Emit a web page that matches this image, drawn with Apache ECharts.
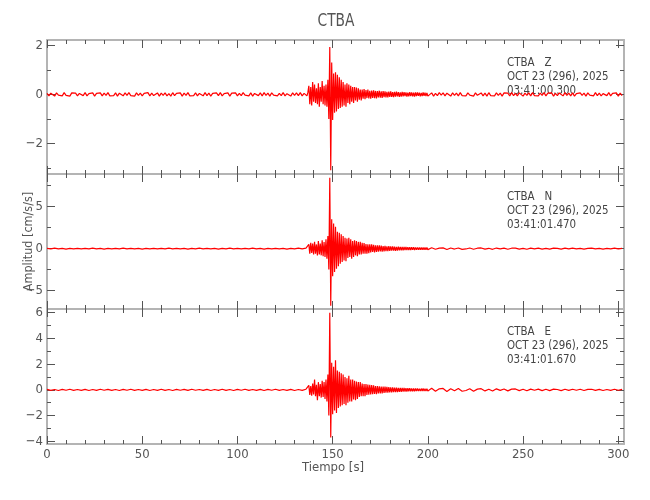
<!DOCTYPE html>
<html>
<head>
<meta charset="utf-8">
<script src="https://cdn.jsdelivr.net/npm/echarts@6/dist/echarts.min.js"></script>
<style>html,body{margin:0;padding:0;background:#fff}#c{width:650px;height:500px}</style>
</head>
<body>
<div id="c"></div>
<script>
// ---------- data ----------
const stationName = 'CTBA';
const channels = ['Z', 'N', 'E'];
const startTimes = ['03:41:00.300', '03:41:01.470', '03:41:01.670'];
const dateText = 'OCT 23 (296), 2025';

const xTicks = [0, 50, 100, 150, 200, 250, 300];
const zTicks = [-2, 0, 2];
const zMinorTicks = [-3, -1, 1];
const nTicks = [-5, 0, 5];
const nMinorTicks = [-7.5, -2.5, 2.5, 7.5];
const eTicks = [-4, -2, 0, 2, 4, 6];
const eMinorTicks = [-3, -1, 1, 3, 5];

// sampling of the hand-read traces (seconds)
const EV_T0 = 136, EV_DT = 0.5;       // event window, all channels
const POST_T0 = 202;                  // after-event window start
const zPreDt = 1, zPostDt = 1;
const nPreDt = 2, nPostDt = 2;
const ePreDt = 2, ePostDt = 2;

const zPre = [0.04,-0.06,0.05,0.02,-0.07,0.06,-0.03,0.05,-0.06,0.07,
-0.04,0.03,-0.07,0.06,-0.02,0.05,-0.06,0.04,0.06,-0.05,
0.07,-0.06,0.03,-0.05,0.06,-0.07,0.04,-0.02,0.06,-0.06,
0.05,-0.04,0.07,-0.06,0.02,-0.05,0.06,-0.07,0.05,0.03,
-0.06,0.06,-0.04,0.07,-0.05,0.03,-0.07,0.06,-0.04,0.05,
-0.06,0.04,-0.03,0.07,-0.06,0.05,-0.05,0.02,0.06,-0.07,
0.05,-0.04,0.06,-0.06,0.03,-0.07,0.07,-0.05,0.04,-0.03,
0.06,-0.07,0.05,-0.04,0.07,-0.06,0.02,-0.05,0.06,-0.06,
0.04,0.03,-0.06,0.07,-0.05,0.05,-0.07,0.04,-0.03,0.06,
-0.05,0.07,-0.06,0.03,-0.04,0.06,-0.07,0.05,-0.02,0.06,
-0.06,0.04,-0.05,0.07,-0.03,0.05,-0.06,0.06,-0.07,0.04,
0.03,-0.05,0.06,-0.06,0.07,-0.04,0.05,-0.07,0.06,-0.03,
0.05,-0.06,0.04,-0.05,0.07,-0.06,0.03,0.05,-0.07,0.06,
-0.04,0.06,-0.05,0.07,-0.06,0.04];
const zEvent = [0.05,-0.06,0.08,
0.35,-0.4,0.3,-0.45,0.5,-0.3,0.4,-0.35,0.25,-0.4,0.45,-0.5,0.3,-0.3,0.55,-0.4,0.35,-0.45,0.4,-0.5,
0.6,-1.0,1.93,-3.1,1.3,-1.05,0.85,-0.75,0.9,-0.7,0.8,-0.6,0.7,-0.55,0.6,-0.5,
0.5,-0.45,0.4,-0.5,0.45,-0.35,0.4,-0.4,0.35,-0.3,0.3,-0.35,0.3,-0.25,0.28,-0.3,0.25,-0.22,0.2,-0.25,
0.2,-0.18,0.22,-0.2,0.18,-0.15,0.2,-0.17,0.15,-0.18,0.16,-0.14,0.17,-0.15,0.14,-0.16,0.13,-0.12,0.15,-0.13,0.12,-0.14,0.13,-0.11,0.12,-0.12,0.1,-0.12,0.11,-0.1,
0.12,-0.1,0.09,-0.11,0.1,-0.09,0.11,-0.08,0.09,-0.1,0.08,-0.09,0.1,-0.08,0.09,-0.07,0.08,-0.09,0.07,-0.08,
0.09,-0.07,0.08,-0.08,0.07,-0.09,0.08,-0.07,0.08,-0.06,0.07,-0.08,0.06,-0.07,0.08,-0.06,0.07,-0.07,0.06,-0.07];
const zPost = [0.06,-0.07,0.04,-0.05,0.07,-0.03,0.06,-0.06,0.05,0.02,
-0.07,0.06,-0.04,0.05,-0.06,0.07,-0.05,0.03,-0.06,0.06,
-0.03,0.05,-0.07,0.06,-0.04,0.04,0.06,-0.06,0.05,-0.07,
0.07,-0.05,0.03,-0.06,0.06,-0.04,0.05,-0.07,0.06,-0.02,
0.05,-0.06,0.07,-0.05,0.04,-0.06,0.06,0.03,-0.07,0.05,
-0.04,0.06,-0.06,0.07,-0.05,0.03,-0.06,0.05,-0.04,0.07,
-0.06,0.05,-0.03,0.06,-0.07,0.04,-0.05,0.06,0.02,-0.06,
0.07,-0.04,0.05,-0.06,0.06,-0.07,0.03,-0.05,0.06,-0.04,
0.05,-0.07,0.06,-0.03,0.04,-0.06,0.07,-0.05,0.05,-0.06,
0.03,0.06,-0.05,0.07,-0.06,0.04,-0.04,0.06,-0.07,0.05,
-0.05];

const nPre = [0.04,-0.03,0.05,-0.04,0.03,-0.05,0.04,-0.03,0.04,-0.04,
0.03,-0.04,0.05,-0.03,0.04,-0.05,0.03,-0.04,0.04,-0.03,
0.05,-0.04,0.03,-0.04,0.04,-0.05,0.04,-0.03,0.03,-0.04,
0.04,-0.04,0.05,-0.03,0.03,-0.04,0.04,-0.05,0.03,-0.04,
0.05,-0.03,0.04,-0.04,0.03,-0.05,0.04,-0.03,0.05,-0.04,
0.03,-0.04,0.04,-0.03,0.05,-0.04,0.03,-0.05,0.04,-0.03,
0.04,-0.04,0.03,-0.05,0.04,-0.03,0.05,-0.04];
const nEvent = [0.05,-0.1,0.2,
0.5,-0.6,0.7,-0.5,0.6,-0.7,0.8,-0.6,0.5,-0.8,0.9,-0.7,0.6,-0.8,1.0,-0.9,0.8,-1.0,1.1,-1.2,
1.5,-2.5,8.45,-6.8,3.5,-3.3,3.0,-2.8,2.6,-2.4,2.0,-2.1,1.9,-1.8,1.7,-1.6,
1.5,-1.4,1.3,-1.5,1.2,-1.1,1.3,-1.0,1.1,-1.2,0.9,-1.0,1.0,-0.8,0.9,-0.9,0.8,-0.7,0.8,-0.7,
0.7,-0.6,0.65,-0.6,0.55,-0.6,0.5,-0.55,0.5,-0.45,0.5,-0.4,0.45,-0.45,0.4,-0.4,0.38,-0.35,0.4,-0.33,0.35,-0.35,0.3,-0.32,0.33,-0.3,0.28,-0.3,0.3,-0.27,
0.28,-0.25,0.27,-0.25,0.24,-0.26,0.22,-0.24,0.23,-0.2,0.22,-0.21,0.2,-0.2,0.19,-0.18,0.2,-0.17,0.18,-0.18,
0.16,-0.17,0.17,-0.15,0.16,-0.16,0.15,-0.14,0.15,-0.15,0.13,-0.14,0.14,-0.13,0.13,-0.12,0.13,-0.12,0.12,-0.12];
const nPost = [0.1,-0.08,0.06,0.09,-0.1,0.07,-0.05,0.08,-0.09,-0.04,
0.07,-0.08,0.05,0.08,-0.06,0.04,-0.08,0.07,-0.03,0.06,
-0.07,0.05,0.06,-0.05,0.04,-0.07,0.06,-0.02,0.05,-0.06,
0.04,-0.05,0.06,0.03,-0.06,0.05,-0.04,0.05,-0.03,0.04,
-0.05,0.03,0.05,-0.04,0.04,-0.05,0.03,-0.04,0.05,-0.03,
0.04];

const ePre = [0.04,-0.04,0.03,-0.05,0.04,-0.03,0.05,-0.04,0.03,-0.04,
0.04,-0.05,0.03,-0.04,0.05,-0.03,0.04,-0.04,0.03,-0.05,
0.04,-0.03,0.05,-0.04,0.03,-0.04,0.04,-0.05,0.03,-0.04,
0.05,-0.04,0.03,-0.05,0.04,-0.03,0.04,-0.04,0.05,-0.03,
0.03,-0.04,0.04,-0.05,0.03,-0.04,0.05,-0.04,0.03,-0.05,
0.04,-0.03,0.05,-0.04,0.03,-0.04,0.04,-0.05,0.04,-0.03,
0.05,-0.04,0.03,-0.04,0.04,-0.05,0.03,-0.04];
const eEvent = [0.05,-0.1,0.2,
0.35,-0.4,0.3,-0.45,0.5,-0.35,0.8,-0.5,0.4,-0.8,0.6,-0.5,0.45,-0.6,0.7,-0.55,0.6,-0.7,0.8,-0.9,
1.2,-2.0,6.0,-3.7,2.1,-1.9,1.8,-1.6,2.3,-1.8,1.5,-1.4,1.4,-1.3,1.3,-1.2,
1.2,-1.1,1.0,-1.2,0.9,-1.0,1.1,-0.9,0.8,-0.9,0.8,-0.75,0.7,-0.8,0.65,-0.7,0.6,-0.55,0.6,-0.5,
0.5,-0.5,0.45,-0.5,0.45,-0.4,0.42,-0.38,0.4,-0.35,0.38,-0.33,0.35,-0.32,0.3,-0.33,0.3,-0.28,0.28,-0.27,0.26,-0.27,0.25,-0.24,0.25,-0.22,0.23,-0.22,0.21,-0.2,
0.2,-0.19,0.2,-0.18,0.18,-0.17,0.17,-0.18,0.16,-0.15,0.16,-0.15,0.15,-0.14,0.15,-0.13,0.14,-0.14,0.13,-0.12,
0.13,-0.12,0.12,-0.12,0.11,-0.12,0.11,-0.1,0.11,-0.1,0.1,-0.1,0.1,-0.09,0.1,-0.09,0.09,-0.09,0.09,-0.08];
const ePost = [0.12,-0.1,0.08,0.11,-0.12,0.09,-0.07,0.1,-0.11,-0.05,
0.09,-0.1,0.06,0.09,-0.08,0.05,-0.09,0.08,-0.04,0.07,
-0.08,0.06,0.07,-0.06,0.05,-0.07,0.06,-0.03,0.06,-0.06,
0.05,-0.06,0.06,0.03,-0.06,0.05,-0.04,0.05,-0.03,0.05,
-0.05,0.04,0.05,-0.04,0.04,-0.05,0.03,-0.04,0.05,-0.03,
0.04];

// ---------- chart ----------
const FONT = "'Liberation Sans Narrow','DejaVu Sans Condensed','Roboto Condensed',sans-serif";
const TXT = '#555';
const FRAME = '#b4b4b4';
const TICK = '#555';

function buildTrace(preDt, pre, ev, postDt, post) {
  const d = [];
  pre.forEach((v, i) => d.push([i * preDt, v]));
  ev.forEach((v, i) => d.push([EV_T0 + i * EV_DT, v]));
  post.forEach((v, i) => d.push([POST_T0 + i * postDt, v]));
  return d;
}

const panels = [
  { min: -3.25, max: 2.22, major: zTicks, minor: zMinorTicks, data: buildTrace(zPreDt, zPre, zEvent, zPostDt, zPost), top: 40, height: 134 },
  { min: -7.2, max: 8.9, major: nTicks, minor: nMinorTicks, data: buildTrace(nPreDt, nPre, nEvent, nPostDt, nPost), top: 174, height: 135 },
  { min: -4.21, max: 6.29, major: eTicks, minor: eMinorTicks, data: buildTrace(ePreDt, ePre, eEvent, ePostDt, ePost), top: 309, height: 135 }
];

const fmt = v => (v < 0 ? '\u2212' + Math.abs(v) : String(v));

const grid = [], xAxis = [], yAxis = [], series = [], graphic = [];
panels.forEach((p, g) => {
  grid.push({ left: 47, width: 577, top: p.top, height: p.height });
  ['bottom', 'top'].forEach(pos => {
    xAxis.push({
      type: 'value', gridIndex: g, min: 0, max: 303, position: pos, interval: 50,
      axisLine: { show: true, onZero: false, lineStyle: { color: FRAME, width: 2 } },
      axisTick: { inside: true, length: 8, customValues: xTicks, lineStyle: { color: TICK } },
      minorTick: { show: true, splitNumber: 5, length: 4, lineStyle: { color: TICK } },
      axisLabel: {
        show: pos === 'bottom' && g === panels.length - 1, customValues: xTicks,
        color: TXT, fontSize: 13, fontFamily: FONT, margin: 4
      },
      splitLine: { show: false }, minorSplitLine: { show: false }
    });
  });
  ['left', 'right'].forEach(pos => {
    yAxis.push({
      type: 'value', gridIndex: g, min: p.min, max: p.max, position: pos,
      axisLine: { show: true, onZero: false, lineStyle: { color: FRAME, width: 2 } },
      axisTick: { inside: true, length: 8, customValues: p.major, lineStyle: { color: TICK } },
      axisLabel: {
        show: pos === 'left', customValues: p.major, formatter: fmt,
        color: TXT, fontSize: 13, fontFamily: FONT, margin: 4
      },
      splitLine: { show: false }
    });
    yAxis.push({
      type: 'value', gridIndex: g, min: p.min, max: p.max, position: pos,
      axisLine: { show: false, onZero: false },
      axisTick: { inside: true, length: 4, customValues: p.minor, lineStyle: { color: TICK } },
      axisLabel: { show: false },
      splitLine: { show: false }
    });
  });
  series.push({
    type: 'line', xAxisIndex: g * 2, yAxisIndex: g * 4, data: p.data,
    showSymbol: false, symbol: 'none', sampling: null, clip: true,
    lineStyle: { color: '#ff0000', width: 1.2 }, z: 3
  });
  graphic.push({
    type: 'text', x: 507, y: p.top + 16, scaleX: 0.88,
    style: {
      text: stationName + '   ' + channels[g] + '\n' + dateText + '\n' + startTimes[g],
      fill: '#444', fontSize: 13, lineHeight: 14, fontFamily: FONT
    }
  });
});

graphic.push({ type: 'text', x: 336, y: 22, scaleX: 0.9, style: { text: stationName, fill: TXT, fontSize: 17, fontFamily: FONT, align: 'center', verticalAlign: 'middle' } });
graphic.push({ type: 'text', x: 29, y: 241.5, rotation: Math.PI / 2, style: { text: 'Amplitud [cm/s/s]', fill: TXT, fontSize: 12.5, fontFamily: FONT, align: 'center', verticalAlign: 'middle' } });
graphic.push({ type: 'text', x: 333, y: 468, style: { text: 'Tiempo [s]', fill: TXT, fontSize: 13, fontFamily: FONT, align: 'center', verticalAlign: 'middle' } });

const chart = echarts.init(document.getElementById('c'), null, { renderer: 'canvas' });
chart.setOption({ animation: false, backgroundColor: '#fff', grid, xAxis, yAxis, series, graphic });
</script>
</body>
</html>
